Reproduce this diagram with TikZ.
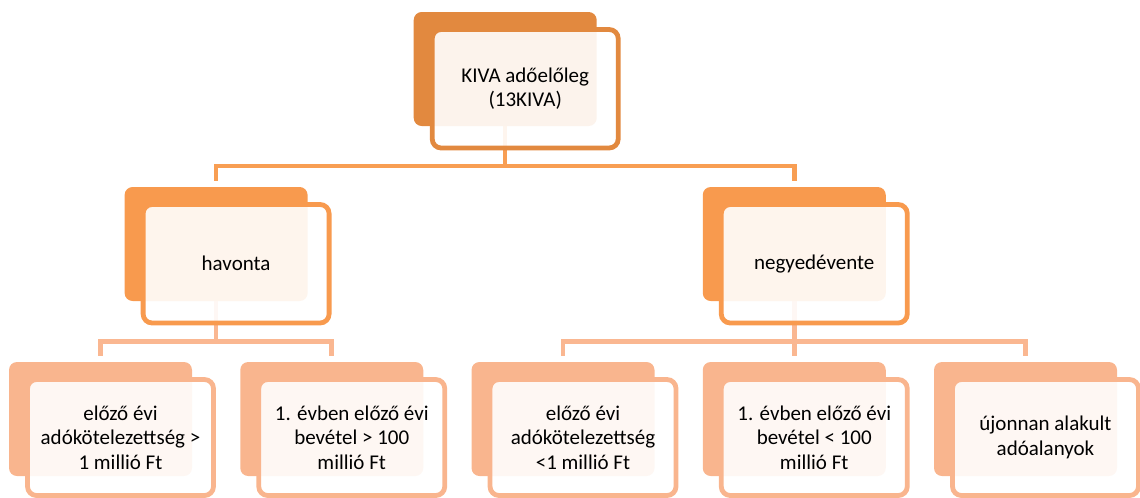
\documentclass[tikz,border=0pt]{standalone}
\usepackage{fontspec}
\setmainfont{Carlito}
\usetikzlibrary{calc}
\pgfdeclarelayer{background}
\pgfsetlayers{background,main}

\definecolor{lvlA}{RGB}{226,137,63}
\definecolor{lvlB}{RGB}{248,154,78}
\definecolor{lvlC}{RGB}{249,181,142}
\definecolor{linkA}{RGB}{248,158,83}
\definecolor{linkB}{RGB}{250,183,145}

\tikzset{
  backbox/.style={draw=none, rounded corners=6pt, minimum width=137.25pt,
    minimum height=85.5pt, inner sep=0pt, outer sep=0pt},
  frontbox/.style={rounded corners=6.75pt, fill=white, fill opacity=0.9,
    line width=3.6pt, minimum width=139.5pt, inner sep=0pt, outer sep=0pt},
  boxtext/.style={align=center, font=\fontsize{15.75}{18.5}\selectfont, text=black},
  conn/.style={line width=3.4pt, shorten >=4.5pt},
}

% #1 name, #2 left x, #3 top y (px), #4 colour, #5 front height (px), #6 text
\newcommand\orgunit[6]{%
  \node[backbox, fill=#4] (#1-back) at ({#2+91.5},{#3+57}) {};
  \node[frontbox, draw=#4, minimum height={#5*0.75pt}]
    (#1-front) at ({#2+111.5},{#3+17.5+#5/2}) {};
  \node[boxtext] (#1-text) at (#1-front.center) {#6};
}

\begin{document}
\begin{tikzpicture}[x=0.75pt, y=-0.75pt]
\useasboundingbox (0,0) rectangle (1140,497);

% top level
\orgunit{top}{413.7}{12}{lvlA}{118.5}{KIVA adőelőleg\\(13KIVA)}

% second level
\orgunit{mon}{124.6}{187}{lvlB}{118.5}{havonta}
\orgunit{qtr}{702.75}{187}{lvlB}{118.5}{negyedévente}

% third level
\orgunit{c1}{9}{362}{lvlC}{116}{előző évi\\adókötelezettség >\\1 millió Ft}
\orgunit{c2}{240.25}{362}{lvlC}{116}{1. évben előző évi\\bevétel > 100\\millió Ft}
\orgunit{c3}{471.5}{362}{lvlC}{116}{előző évi\\adókötelezettség\\<1 millió Ft}
\orgunit{c4}{702.75}{362}{lvlC}{116}{1. évben előző évi\\bevétel < 100\\millió Ft}
\orgunit{c5}{934}{362}{lvlC}{116}{újonnan alakult\\adóalanyok}

% connectors
\begin{pgfonlayer}{background}
  \path (top-back.south) ++(0,40) coordinate (busA);
  \draw[conn, draw=linkA] (top-back.south) -- (busA) -| (mon-back.north);
  \draw[conn, draw=linkA] (busA) -| (qtr-back.north);

  \path (mon-back.south) ++(0,40.5) coordinate (busB);
  \draw[conn, draw=linkB] (mon-back.south) -- (busB) -| (c1-back.north);
  \draw[conn, draw=linkB] (busB) -| (c2-back.north);

  \path (qtr-back.south) ++(0,40.5) coordinate (busC);
  \draw[conn, draw=linkB] (qtr-back.south) -- (c4-back.north);
  \draw[conn, draw=linkB] (busC) -| (c3-back.north);
  \draw[conn, draw=linkB] (busC) -| (c5-back.north);
\end{pgfonlayer}
\end{tikzpicture}
\end{document}
